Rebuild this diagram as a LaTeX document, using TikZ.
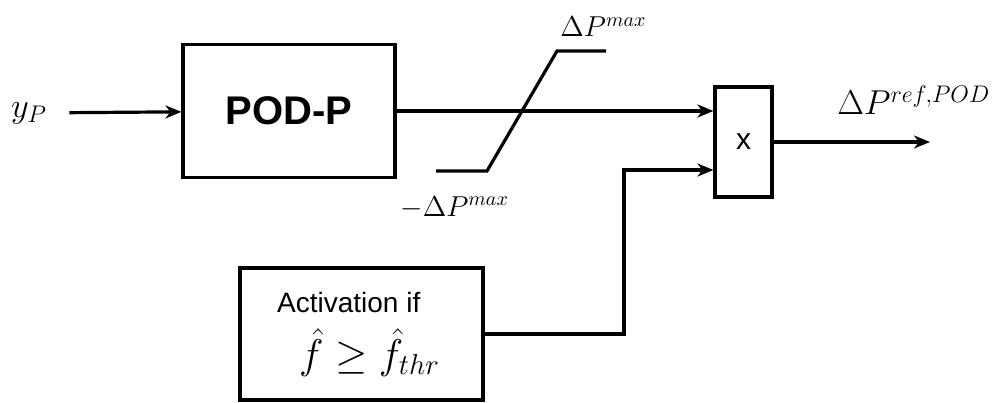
\documentclass[tikz,border=0pt]{standalone}
\usepackage{fontspec}
\setmainfont{Liberation Sans}
\usetikzlibrary{arrows.meta, positioning, calc}
\tikzset{
  blk/.style={rectangle, draw=black, line width=1.6pt, align=center, inner sep=3pt},
  arr/.style={-{Stealth[length=8pt, width=6.5pt, inset=2.5pt]}, line width=1.6pt},
  wire/.style={line width=1.6pt},
  lab/.style={inner sep=0pt, font=\fontsize{14}{16}\selectfont},
}

\begin{document}
\begin{tikzpicture}[x=0.5pt, y=0.5pt]
  \useasboundingbox (0,0) rectangle (999,402);
  \node[lab, font=\fontsize{18}{20}\selectfont] (yp) at (29,289) {$y_P$};
  \node[blk, minimum width=106pt, minimum height=66.5pt, font=\fontsize{20}{24}\selectfont\bfseries] (pod) at (289,291) {POD-P};
  \node[blk, minimum width=28.5pt, minimum height=55pt, font=\fontsize{15}{18}\selectfont] (mult) at (743.5,260) {x};
  \node[blk, minimum width=121.5pt, minimum height=66pt, align=left, font=\fontsize{14}{16}\selectfont] (act) at (361.5,68)
    {\hspace*{-3pt}Activation if\\[7pt]\hspace*{8pt}{\fontsize{20}{24}\selectfont$\hat{f} \geq \hat{f}_{thr}$}};
  % saturation
  \draw[wire] (436,231) -- (487,231) -- (557,351) -- (606,351);
  \node[lab, anchor=base west] (pmax) at (560,365) {$\Delta P^{max}$};
  \node[lab, anchor=base west] (pmin) at (400,186) {$-\Delta P^{max}$};
  \node[lab, anchor=base west, font=\fontsize{17}{20}\selectfont] (pref) at (837,287) {$\Delta P^{ref,POD}$};
  % connectors
  \coordinate (turn) at (624,232);
  \coordinate (outend) at (930,260);
  \draw[arr, shorten <=11pt] (yp) -- (pod);
  \draw[arr] (pod.east) -- (pod.east -| mult.west);
  \draw[arr] (act.east) -| (turn) -- (turn -| mult.west);
  \draw[arr] (mult.east) -- (outend);
\end{tikzpicture}
\end{document}
